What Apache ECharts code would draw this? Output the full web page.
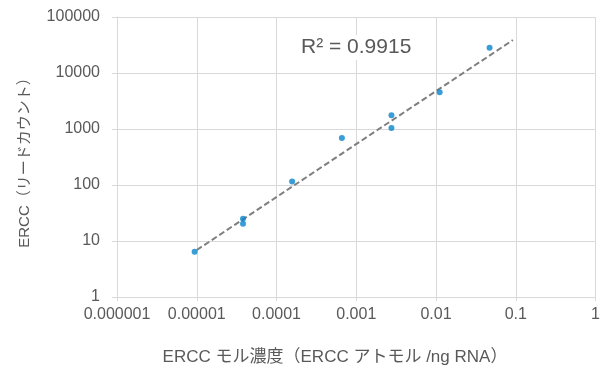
<!DOCTYPE html>
<html>
<head>
<meta charset="utf-8">
<script src="https://cdn.jsdelivr.net/npm/echarts@6/dist/echarts.min.js"></script>
<style>
  html, body { margin: 0; padding: 0; background: #fff; }
  #chart { width: 603px; height: 372px; }
</style>
</head>
<body>
<div id="chart"></div>
<script>
  // ERCC 濃度 vs リードカウント
  var molConc = [0.0000094, 0.000038, 0.000038, 0.000157, 0.00066, 0.00276, 0.00276, 0.0111, 0.0469];
  var readCount = [6.4, 25, 20.4, 115, 690, 1760, 1040, 4520, 28300];
  var trendX = [0.00001, 0.092];
  var trendY = [6.9, 38800];
  var xTickLabels = ['0.000001', '0.00001', '0.0001', '0.001', '0.01', '0.1', '1'];
  var yTickLabels = ['1', '10', '100', '1000', '10000', '100000'];
  var r2Text = 'R² = 0.9915';

  var fontFam = "'Liberation Sans', 'Noto Sans CJK JP', sans-serif";
  var textColor = '#595959';
  var gridColor = '#d9d9d9';

  var points = molConc.map(function (x, i) { return [x, readCount[i]]; });
  var trend = trendX.map(function (x, i) { return [x, trendY[i]]; });

  var myChart = echarts.init(document.getElementById('chart'));
  var option = {
    animation: false,
    backgroundColor: '#fff',
    grid: {
      left: 117,
      right: 6,
      top: 17,
      bottom: 75
    },
    xAxis: {
      type: 'log',
      logBase: 10,
      min: 0.000001,
      max: 1,
      axisLine: { show: true, lineStyle: { color: gridColor, width: 1 } },
      axisTick: { show: true, length: 4, lineStyle: { color: gridColor } },
      splitLine: { show: true, lineStyle: { color: gridColor, width: 1 } },
      minorTick: { show: false },
      axisLabel: {
        color: textColor,
        fontSize: 16,
        fontFamily: fontFam,
        margin: 10,
        formatter: function (v) {
          return xTickLabels[Math.round(Math.log10(v)) + 6];
        }
      }
    },
    yAxis: {
      type: 'log',
      logBase: 10,
      min: 1,
      max: 100000,
      axisLine: { show: true, lineStyle: { color: gridColor, width: 1 } },
      axisTick: { show: true, length: 5, lineStyle: { color: gridColor } },
      splitLine: { show: true, lineStyle: { color: gridColor, width: 1 } },
      axisLabel: {
        color: textColor,
        fontSize: 16,
        fontFamily: fontFam,
        margin: 17,
        formatter: function (v) {
          return yTickLabels[Math.round(Math.log10(v))];
        }
      }
    },
    graphic: [
      {
        type: 'text',
        left: 299,
        top: 35,
        z: 10,
        style: {
          text: r2Text, fill: textColor, fontSize: 21, fontFamily: fontFam,
          backgroundColor: '#fff', padding: [2, 2, 2, 2]
        }
      },
      {
        type: 'text',
        x: 335,
        y: 357,
        style: {
          text: 'ERCC モル濃度（ERCC アトモル /ng RNA）',
          fill: textColor, fontSize: 17, fontFamily: fontFam,
          align: 'center', verticalAlign: 'middle'
        }
      },
      {
        type: 'text',
        x: 25,
        y: 159,
        rotation: Math.PI / 2,
        style: {
          text: 'ERCC（リードカウント）',
          fill: textColor, fontSize: 15, fontFamily: fontFam,
          align: 'center', verticalAlign: 'middle'
        }
      }
    ],
    series: [
      {
        name: 'trend',
        type: 'line',
        data: trend,
        symbol: 'none',
        silent: true,
        z: 2,
        lineStyle: { color: '#7f7f7f', width: 2, type: [6, 3] }
      },
      {
        name: 'ERCC',
        type: 'scatter',
        data: points,
        symbol: 'circle',
        symbolSize: 6,
        z: 3,
        itemStyle: { color: '#0a84cc' }
      }
    ]
  };
  myChart.setOption(option);
</script>
</body>
</html>
